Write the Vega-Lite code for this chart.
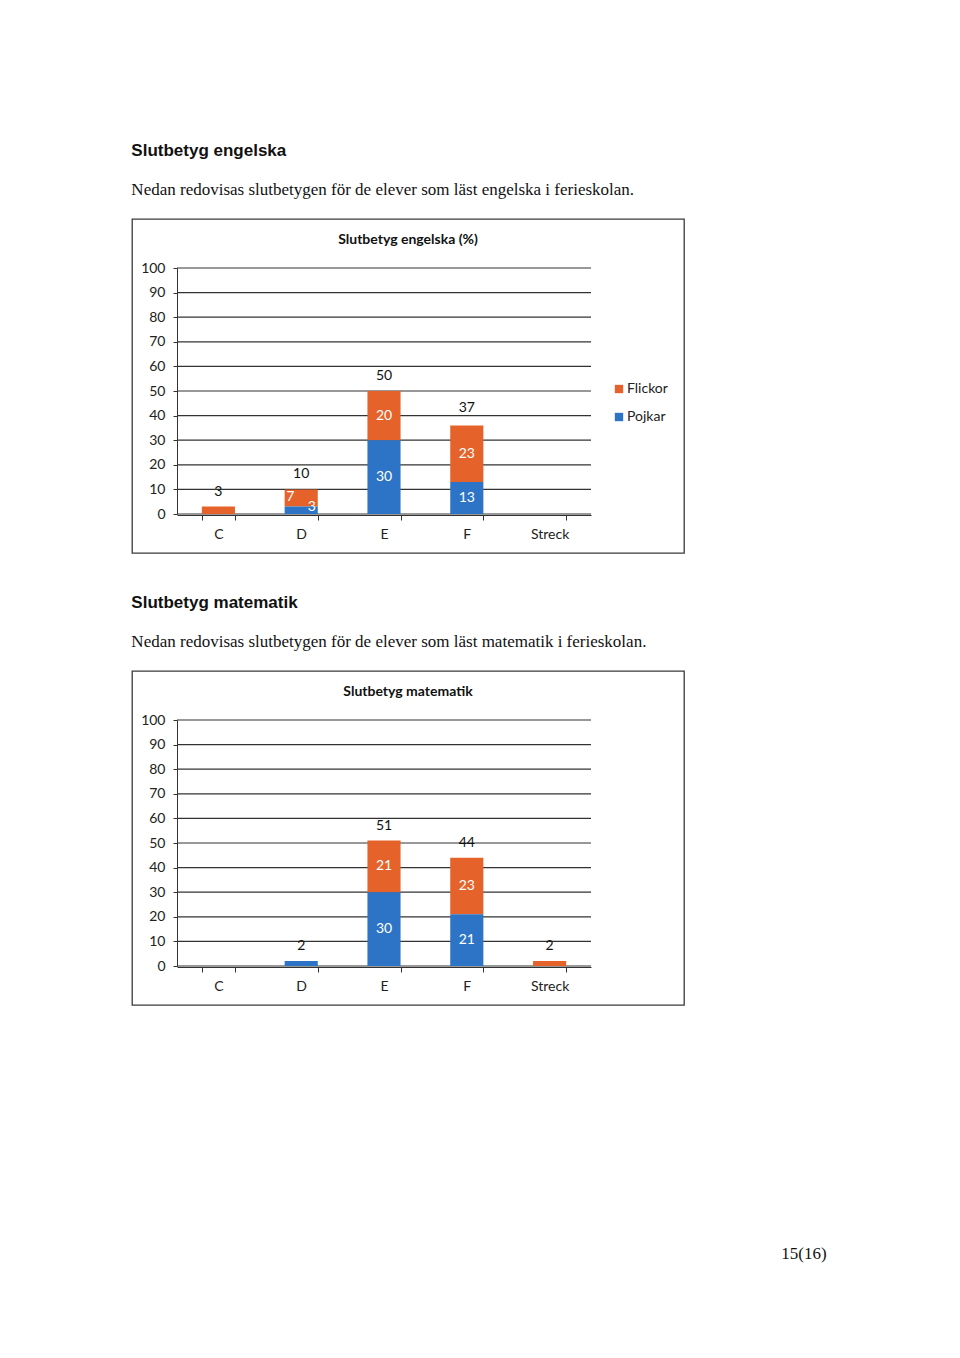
{
  "$schema": "https://vega.github.io/schema/vega-lite/v6.json",
  "background": "white",
  "padding": {"left": 131, "top": 142, "right": 20, "bottom": 20},
  "title": {"text": "15(16)", "orient": "bottom", "anchor": "end", "dx": 142, "offset": 240, "font": "Liberation Serif", "fontSize": 17, "fontWeight": "normal", "color": "#111"},
  "datasets": {
    "grid": [{"g": 0}, {"g": 10}, {"g": 20}, {"g": 30}, {"g": 40}, {"g": 50}, {"g": 60}, {"g": 70}, {"g": 80}, {"g": 90}, {"g": 100}],
    "eng": [
      {"grade": "C", "kon": "Flickor", "value": 3},
      {"grade": "D", "kon": "Flickor", "value": 7},
      {"grade": "D", "kon": "Pojkar", "value": 3},
      {"grade": "E", "kon": "Flickor", "value": 20},
      {"grade": "E", "kon": "Pojkar", "value": 30},
      {"grade": "F", "kon": "Flickor", "value": 23},
      {"grade": "F", "kon": "Pojkar", "value": 13}
    ],
    "engTot": [{"grade": "C", "total": 3}, {"grade": "D", "total": 10}, {"grade": "E", "total": 50}, {"grade": "F", "total": 37}],
    "mat": [
      {"grade": "D", "kon": "Pojkar", "value": 2},
      {"grade": "E", "kon": "Flickor", "value": 21},
      {"grade": "E", "kon": "Pojkar", "value": 30},
      {"grade": "F", "kon": "Flickor", "value": 23},
      {"grade": "F", "kon": "Pojkar", "value": 21},
      {"grade": "Streck", "kon": "Flickor", "value": 2}
    ],
    "matTot": [{"grade": "D", "total": 2}, {"grade": "E", "total": 51}, {"grade": "F", "total": 44}, {"grade": "Streck", "total": 2}]
  },
  "spacing": 40,
  "vconcat": [
    {
      "title": {"text": "Slutbetyg engelska", "subtitle": "Nedan redovisas slutbetygen för de elever som läst engelska i ferieskolan.", "anchor": "start", "font": "Liberation Sans", "fontSize": 17, "fontWeight": "bold", "color": "#111", "subtitleFont": "Liberation Serif", "subtitleFontSize": 17, "subtitleColor": "#111", "subtitlePadding": 22, "offset": 19},
      "vconcat": [
        {
          "width": 552, "height": 334,
          "title": {"text": "Slutbetyg engelska (%)", "anchor": "middle", "offset": -28, "font": "Lato", "fontSize": 14, "fontWeight": "bold", "color": "#111"},
          "resolve": {"scale": {"x": "independent"}},
          "layer": [
            {
              "data": {"name": "grid"},
              "mark": {"type": "rule", "color": "#333", "strokeWidth": 1.2},
              "encoding": {
                "y": {"field": "g", "type": "quantitative", "scale": {"domain": [0, 100], "range": [295, 49]}, "axis": {"title": null, "offset": -45, "values": [0, 10, 20, 30, 40, 50, 60, 70, 80, 90, 100], "tickCount": 11, "labelOverlap": false, "grid": false, "domainColor": "#333", "tickColor": "#333", "tickSize": 4, "labelFont": "Lato", "labelFontSize": 14, "labelColor": "#222", "labelPadding": 8}},
                "x": {"datum": 0, "type": "quantitative", "scale": {"domain": [0, 1], "range": [45, 459]}, "axis": null},
                "x2": {"datum": 1}
              }
            },
            {
              "layer": [
                {
                  "data": {"name": "eng"},
                  "mark": {"type": "bar"},
                  "encoding": {
                    "x": {"field": "grade", "type": "nominal", "scale": {"domain": ["C", "D", "E", "F", "Streck"], "range": [45, 459], "paddingInner": 0.6, "paddingOuter": 0.3}, "axis": {"title": null, "offset": -38, "labelAngle": 0, "tickBand": "extent", "domainColor": "#333", "tickColor": "#333", "tickSize": 5, "labelFont": "Lato", "labelFontSize": 14, "labelColor": "#222", "labelPadding": 7}},
                    "y": {"field": "value", "type": "quantitative", "stack": "zero", "scale": {"domain": [0, 100], "range": [295, 49]}, "axis": {"title": null, "offset": -45, "values": [0, 10, 20, 30, 40, 50, 60, 70, 80, 90, 100], "tickCount": 11, "labelOverlap": false, "grid": false, "domainColor": "#333", "tickColor": "#333", "tickSize": 4, "labelFont": "Lato", "labelFontSize": 14, "labelColor": "#222", "labelPadding": 8}},
                    "color": {"field": "kon", "type": "nominal", "scale": {"domain": ["Flickor", "Pojkar"], "range": ["#E5622B", "#2D74C6"]}, "legend": {"orient": "none", "legendX": 480, "legendY": 163, "title": null, "symbolType": "square", "symbolSize": 70, "symbolStrokeWidth": 0, "labelFont": "Lato", "labelFontSize": 14, "labelColor": "#222", "rowPadding": 14, "labelOffset": 1}},
                    "order": {"field": "kon", "sort": "descending"}
                  }
                },
                {
                  "data": {"name": "eng"},
                  "transform": [{"filter": "datum.grade != 'C' && datum.grade != 'D'"}],
                  "mark": {"type": "text", "color": "white", "font": "Lato", "fontSize": 14, "baseline": "middle"},
                  "encoding": {
                    "x": {"field": "grade", "type": "nominal"},
                    "y": {"field": "value", "type": "quantitative", "stack": "zero", "bandPosition": 0.5},
                    "detail": {"field": "kon"},
                    "order": {"field": "kon", "sort": "descending"},
                    "text": {"field": "value"}
                  }
                },
                {
                  "data": {"name": "eng"},
                  "transform": [{"filter": "datum.grade == 'D' && datum.kon == 'Flickor'"}],
                  "mark": {"type": "text", "color": "white", "font": "Lato", "fontSize": 14, "baseline": "middle"},
                  "encoding": {
                    "x": {"field": "grade", "type": "nominal", "bandPosition": 0.17},
                    "y": {"field": "value", "type": "quantitative", "stack": null},
                    "text": {"field": "value"}
                  }
                },
                {
                  "data": {"name": "eng"},
                  "transform": [{"filter": "datum.grade == 'D' && datum.kon == 'Pojkar'"}],
                  "mark": {"type": "text", "color": "white", "font": "Lato", "fontSize": 14, "baseline": "middle"},
                  "encoding": {
                    "x": {"field": "grade", "type": "nominal", "bandPosition": 0.82},
                    "y": {"field": "value", "type": "quantitative", "stack": null},
                    "text": {"field": "value"}
                  }
                },
                {
                  "data": {"name": "engTot"},
                  "mark": {"type": "text", "color": "#111", "font": "Lato", "fontSize": 14, "baseline": "bottom", "dy": -8},
                  "encoding": {
                    "x": {"field": "grade", "type": "nominal"},
                    "y": {"field": "total", "type": "quantitative"},
                    "text": {"field": "total"}
                  }
                }
              ]
            }
          ]
        }
      ]
    },
    {
      "title": {"text": "Slutbetyg matematik", "subtitle": "Nedan redovisas slutbetygen för de elever som läst matematik i ferieskolan.", "anchor": "start", "font": "Liberation Sans", "fontSize": 17, "fontWeight": "bold", "color": "#111", "subtitleFont": "Liberation Serif", "subtitleFontSize": 17, "subtitleColor": "#111", "subtitlePadding": 22, "offset": 19},
      "vconcat": [
        {
          "width": 552, "height": 334,
          "title": {"text": "Slutbetyg matematik", "anchor": "middle", "offset": -28, "font": "Lato", "fontSize": 14, "fontWeight": "bold", "color": "#111"},
          "resolve": {"scale": {"x": "independent"}},
          "layer": [
            {
              "data": {"name": "grid"},
              "mark": {"type": "rule", "color": "#333", "strokeWidth": 1.2},
              "encoding": {
                "y": {"field": "g", "type": "quantitative", "scale": {"domain": [0, 100], "range": [295, 49]}, "axis": {"title": null, "offset": -45, "values": [0, 10, 20, 30, 40, 50, 60, 70, 80, 90, 100], "tickCount": 11, "labelOverlap": false, "grid": false, "domainColor": "#333", "tickColor": "#333", "tickSize": 4, "labelFont": "Lato", "labelFontSize": 14, "labelColor": "#222", "labelPadding": 8}},
                "x": {"datum": 0, "type": "quantitative", "scale": {"domain": [0, 1], "range": [45, 459]}, "axis": null},
                "x2": {"datum": 1}
              }
            },
            {
              "layer": [
                {
                  "data": {"name": "mat"},
                  "mark": {"type": "bar"},
                  "encoding": {
                    "x": {"field": "grade", "type": "nominal", "scale": {"domain": ["C", "D", "E", "F", "Streck"], "range": [45, 459], "paddingInner": 0.6, "paddingOuter": 0.3}, "axis": {"title": null, "offset": -38, "labelAngle": 0, "tickBand": "extent", "domainColor": "#333", "tickColor": "#333", "tickSize": 5, "labelFont": "Lato", "labelFontSize": 14, "labelColor": "#222", "labelPadding": 7}},
                    "y": {"field": "value", "type": "quantitative", "stack": "zero", "scale": {"domain": [0, 100], "range": [295, 49]}, "axis": {"title": null, "offset": -45, "values": [0, 10, 20, 30, 40, 50, 60, 70, 80, 90, 100], "tickCount": 11, "labelOverlap": false, "grid": false, "domainColor": "#333", "tickColor": "#333", "tickSize": 4, "labelFont": "Lato", "labelFontSize": 14, "labelColor": "#222", "labelPadding": 8}},
                    "color": {"field": "kon", "type": "nominal", "scale": {"domain": ["Flickor", "Pojkar"], "range": ["#E5622B", "#2D74C6"]}, "legend": {"orient": "none", "legendX": 480, "legendY": 163, "title": null, "symbolType": "square", "symbolSize": 70, "symbolStrokeWidth": 0, "labelFont": "Lato", "labelFontSize": 14, "labelColor": "#222", "rowPadding": 14, "labelOffset": 1}},
                    "order": {"field": "kon", "sort": "descending"}
                  }
                },
                {
                  "data": {"name": "mat"},
                  "transform": [{"filter": "datum.value > 2"}],
                  "mark": {"type": "text", "color": "white", "font": "Lato", "fontSize": 14, "baseline": "middle"},
                  "encoding": {
                    "x": {"field": "grade", "type": "nominal"},
                    "y": {"field": "value", "type": "quantitative", "stack": "zero", "bandPosition": 0.5},
                    "detail": {"field": "kon"},
                    "order": {"field": "kon", "sort": "descending"},
                    "text": {"field": "value"}
                  }
                },
                {
                  "data": {"name": "matTot"},
                  "mark": {"type": "text", "color": "#111", "font": "Lato", "fontSize": 14, "baseline": "bottom", "dy": -8},
                  "encoding": {
                    "x": {"field": "grade", "type": "nominal"},
                    "y": {"field": "total", "type": "quantitative"},
                    "text": {"field": "total"}
                  }
                }
              ]
            }
          ]
        }
      ]
    }
  ],
  "config": {"view": {"stroke": "#3a3a3a", "strokeWidth": 1.3}, "font": "Lato", "axis": {"labelOverlap": false}}
}
